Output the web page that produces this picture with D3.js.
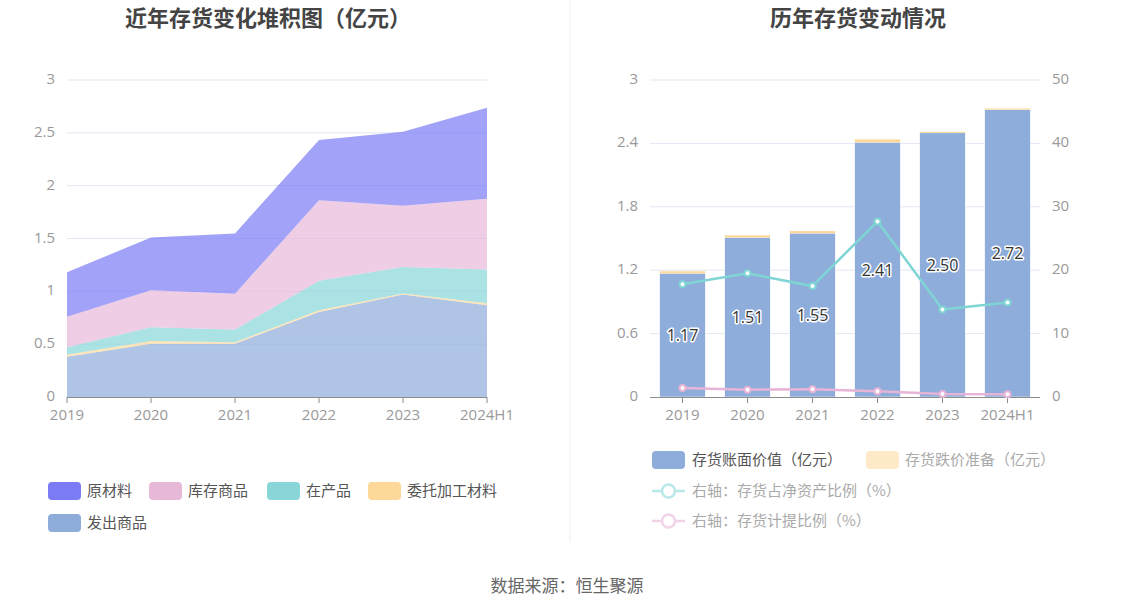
<!DOCTYPE html>
<html><head><meta charset="utf-8">
<script src="https://cdn.jsdelivr.net/npm/d3@7/dist/d3.min.js"></script>
<style>body{margin:0;background:#fff;}svg{display:block;font-family:"Noto Sans CJK SC","Noto Sans",sans-serif;}</style>
</head><body>
<svg id="c" width="1134" height="612"></svg>
<script>
// ---- data ----
const years = ["2019","2020","2021","2022","2023","2024H1"];
// left stacked area (亿元)
const rawMaterial = [0.42,0.50,0.57,0.57,0.70,0.86];   // 原材料
const finishedGoods = [0.29,0.35,0.34,0.76,0.58,0.67]; // 库存商品
const wip = [0.07,0.13,0.12,0.28,0.25,0.32];           // 在产品
const consigned = [0.02,0.025,0.013,0.016,0.01,0.019]; // 委托加工材料
const shipped = [0.38,0.505,0.505,0.805,0.97,0.868];   // 发出商品
// right chart
const bookValue = [1.17,1.51,1.55,2.41,2.50,2.72];      // 存货账面价值
const reserve = [0.02,0.02,0.02,0.028,0.01,0.01];       // 存货跌价准备
const ratioNetAssets = [17.8,19.5,17.5,27.7,13.8,14.9]; // 存货占净资产比例
const provisionRatio = [1.42,1.16,1.21,0.9,0.47,0.42];  // 存货计提比例
const leftTicks = [0,0.5,1,1.5,2,2.5,3];
const rightLTicks = [0,0.6,1.2,1.8,2.4,3];
const rightRTicks = [0,10,20,30,40,50];

const svg = d3.select("#c");
const gridColor = "#e3e7f3", axisColor = "#8c8c8c", labelColor = "#999";
const tickFont = "'Open Sans',sans-serif", tickSize = 15;

// titles
svg.append("text").attr("x",268).attr("y",26).attr("text-anchor","middle")
  .attr("font-size",22).attr("font-weight","bold").attr("fill","#444").text("近年存货变化堆积图（亿元）");
svg.append("text").attr("x",858).attr("y",26).attr("text-anchor","middle")
  .attr("font-size",22).attr("font-weight","bold").attr("fill","#444").text("历年存货变动情况");
svg.append("line").attr("x1",570).attr("x2",570).attr("y1",0).attr("y2",542).attr("stroke","#eee");
svg.append("text").attr("x",567).attr("y",592).attr("text-anchor","middle")
  .attr("font-size",17).attr("fill","#666").text("数据来源：恒生聚源");

// ---------- left chart ----------
const xL = d3.scalePoint().domain(years).range([67,487]);
const yL = d3.scaleLinear().domain([0,3]).range([397,80]);
const gL = svg.append("g");
gL.selectAll("line.g").data(leftTicks.slice(1)).join("line")
  .attr("x1",67).attr("x2",487).attr("y1",d=>yL(d)).attr("y2",d=>yL(d)).attr("stroke",gridColor);
gL.selectAll("text.yt").data(leftTicks).join("text")
  .attr("x",55).attr("y",d=>yL(d)+4).attr("text-anchor","end").attr("font-size",tickSize).attr("fill",labelColor)
  .attr("font-family",tickFont).text(d=>d);

const layers = [
  {name:"发出商品", vals:shipped, color:"#8eaddb"},
  {name:"委托加工材料", vals:consigned, color:"#fed898"},
  {name:"在产品", vals:wip, color:"#88d6d8"},
  {name:"库存商品", vals:finishedGoods, color:"#e8b8d8"},
  {name:"原材料", vals:rawMaterial, color:"#7b7bf6"}
];
const table = years.map((y,i)=>{const o={year:y}; layers.forEach(l=>o[l.name]=l.vals[i]); return o;});
const stack = d3.stack().keys(layers.map(l=>l.name))(table);
const area = d3.area().x(d=>xL(d.data.year)).y0(d=>yL(d[0])).y1(d=>yL(d[1]));
stack.forEach((s,i)=>{
  gL.append("path").attr("d",area(s)).attr("fill",layers[i].color).attr("fill-opacity",0.7);
});
// x axis
gL.append("line").attr("x1",67).attr("x2",487).attr("y1",397.5).attr("y2",397.5).attr("stroke",axisColor);
years.forEach(y=>{
  gL.append("line").attr("x1",xL(y)).attr("x2",xL(y)).attr("y1",397).attr("y2",403).attr("stroke",axisColor);
  gL.append("text").attr("x",xL(y)).attr("y",420).attr("text-anchor","middle").attr("font-size",tickSize)
    .attr("fill",labelColor).attr("font-family",tickFont).text(y);
});
// left legend
const legL = [
  {name:"原材料",color:"#7b7bf6",x:48,y:482},
  {name:"库存商品",color:"#e8b8d8",x:149,y:482},
  {name:"在产品",color:"#88d6d8",x:267,y:482},
  {name:"委托加工材料",color:"#fed898",x:368,y:482},
  {name:"发出商品",color:"#8eaddb",x:48,y:514}
];
legL.forEach(l=>{
  svg.append("rect").attr("x",l.x).attr("y",l.y).attr("width",33).attr("height",18).attr("rx",4).attr("fill",l.color);
  svg.append("text").attr("x",l.x+39).attr("y",l.y+14).attr("font-size",15).attr("fill","#555").text(l.name);
});

// ---------- right chart ----------
const xR = d3.scaleBand().domain(years).range([650,1040]).paddingInner(0.3).paddingOuter(0.15);
const yR = d3.scaleLinear().domain([0,3]).range([397,80]);
const yR2 = d3.scaleLinear().domain([0,50]).range([397,80]);
const gR = svg.append("g");
gR.selectAll("line.g").data(rightLTicks.slice(1)).join("line")
  .attr("x1",650).attr("x2",1040).attr("y1",d=>yR(d)).attr("y2",d=>yR(d)).attr("stroke",gridColor);
gR.selectAll("text.yl").data(rightLTicks).join("text")
  .attr("x",638).attr("y",d=>yR(d)+4).attr("text-anchor","end").attr("font-size",tickSize).attr("fill",labelColor)
  .attr("font-family",tickFont).text(d=>d);
gR.selectAll("text.yr").data(rightRTicks).join("text")
  .attr("x",1052).attr("y",d=>yR2(d)+4).attr("text-anchor","start").attr("font-size",tickSize).attr("fill",labelColor)
  .attr("font-family",tickFont).text(d=>d);
// bars
years.forEach((y,i)=>{
  gR.append("rect").attr("x",xR(y)).attr("width",xR.bandwidth()).attr("y",yR(bookValue[i]))
    .attr("height",yR(0)-yR(bookValue[i])).attr("fill","#8eaddb").attr("stroke","#fff").attr("stroke-width",0.5);
  gR.append("rect").attr("x",xR(y)).attr("width",xR.bandwidth()).attr("y",yR(bookValue[i]+reserve[i]))
    .attr("height",yR(bookValue[i])-yR(bookValue[i]+reserve[i])).attr("fill","#fed898");
});
// x axis
const cx = y=>xR(y)+xR.bandwidth()/2;
gR.append("line").attr("x1",650).attr("x2",1040).attr("y1",397.5).attr("y2",397.5).attr("stroke",axisColor);
years.forEach(y=>{
  gR.append("line").attr("x1",cx(y)).attr("x2",cx(y)).attr("y1",397).attr("y2",403).attr("stroke",axisColor);
  gR.append("text").attr("x",cx(y)).attr("y",420).attr("text-anchor","middle").attr("font-size",tickSize)
    .attr("fill",labelColor).attr("font-family",tickFont).text(y);
});
// lines
const lineGen = d3.line().x((d,i)=>cx(years[i])).y(d=>yR2(d));
[[ratioNetAssets,"#7fd4d4"],[provisionRatio,"#e6b4d6"]].forEach(([vals,col])=>{
  gR.append("path").attr("d",lineGen(vals)).attr("fill","none").attr("stroke",col).attr("stroke-width",2.5);
  vals.forEach((v,i)=>{
    gR.append("circle").attr("cx",cx(years[i])).attr("cy",yR2(v)).attr("r",3).attr("fill","#fff")
      .attr("stroke",col).attr("stroke-width",2);
  });
});
// labels
years.forEach((y,i)=>{
  gR.append("text").attr("x",cx(y)).attr("y",yR(bookValue[i]/2)+6).attr("text-anchor","middle")
    .attr("font-size",16).attr("fill","#333").attr("stroke","#fff").attr("stroke-width",3)
    .attr("paint-order","stroke").attr("stroke-linejoin","round")
    .attr("font-family",tickFont).text(bookValue[i].toFixed(2));
});
// right legend
svg.append("rect").attr("x",652).attr("y",451).attr("width",33).attr("height",18).attr("rx",4).attr("fill","#8eaddb");
svg.append("text").attr("x",692).attr("y",465).attr("font-size",15).attr("fill","#555").text("存货账面价值（亿元）");
svg.append("rect").attr("x",866).attr("y",451).attr("width",33).attr("height",18).attr("rx",4).attr("fill","#fee9c9");
svg.append("text").attr("x",905).attr("y",465).attr("font-size",15).attr("fill","#aaa").text("存货跌价准备（亿元）");
[["右轴：存货占净资产比例（%）","#b8e8e8",491],["右轴：存货计提比例（%）","#f1d4e8",521]].forEach(([t,c,y])=>{
  svg.append("line").attr("x1",652).attr("x2",685).attr("y1",y).attr("y2",y).attr("stroke",c).attr("stroke-width",2.5);
  svg.append("circle").attr("cx",668.5).attr("cy",y).attr("r",6.5).attr("fill","#fff").attr("stroke",c).attr("stroke-width",2.5);
  svg.append("text").attr("x",692).attr("y",y+5).attr("font-size",15).attr("fill","#aaa").text(t);
});
</script>
</body></html>
